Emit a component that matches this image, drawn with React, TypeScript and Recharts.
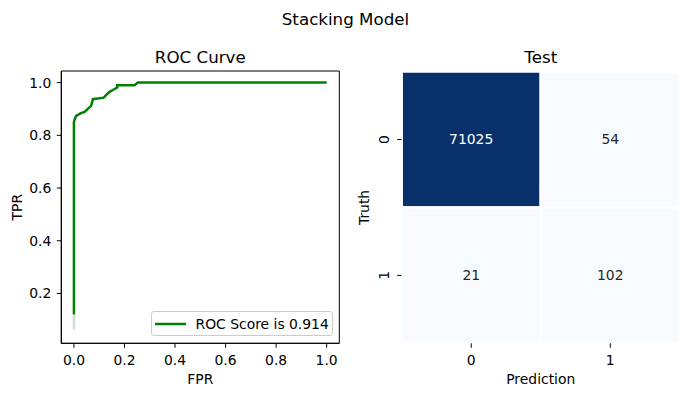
import {
  ComposedChart,
  Line,
  XAxis,
  YAxis,
  ReferenceArea,
  Label,
  Legend,
} from 'recharts';

// ROC curve points
const rocFpr = [0, 0, 0.003, 0.009, 0.026, 0.042, 0.058, 0.068, 0.075, 0.118, 0.131, 0.141, 0.154, 0.171, 0.171, 0.24, 0.253, 1.0];
const rocTpr = [0.12, 0.85, 0.861, 0.874, 0.883, 0.889, 0.903, 0.912, 0.937, 0.943, 0.956, 0.965, 0.972, 0.981, 0.99, 0.99, 1.0, 1.0];
const fadedFpr = [0, 0];
const fadedTpr = [0.063, 0.12];
const rocTicksX = [0, 0.2, 0.4, 0.6, 0.8, 1.0];
const rocTicksY = [0.2, 0.4, 0.6, 0.8, 1.0];
const rocLabel = 'ROC Score is 0.914';

// confusion matrix
const truthLabels = ['0', '1'];
const predLabels = ['0', '1'];
const confusion = [
  [71025, 54],
  [21, 102],
];

const FONT = 'DejaVu Sans, sans-serif';
const TICK = { fill: '#000', fontSize: 13.9, fontFamily: FONT };

const BLUES = ['#f7fbff', '#deebf7', '#c6dbef', '#9ecae1', '#6baed6', '#4292c6', '#2171b5', '#08519c', '#08306b'];

function hex(c: string) {
  return [1, 3, 5].map((i) => parseInt(c.slice(i, i + 2), 16));
}

function blues(t: number) {
  const p = Math.max(0, Math.min(1, t)) * (BLUES.length - 1);
  const i = Math.min(Math.floor(p), BLUES.length - 2);
  const f = p - i;
  const a = hex(BLUES[i]);
  const b = hex(BLUES[i + 1]);
  const m = a.map((v, k) => Math.round(v + (b[k] - v) * f));
  return `rgb(${m[0]},${m[1]},${m[2]})`;
}

const rocData = rocFpr.map((x, i) => ({ fpr: x, tpr: rocTpr[i] }));
const fadedData = fadedFpr.map((x, i) => ({ fpr: x, tpr: fadedTpr[i] }));

const flat = confusion.flat();
const vmin = Math.min(...flat);
const vmax = Math.max(...flat);
const cells = confusion.flatMap((row, i) =>
  row.map((v, j) => {
    const t = (v - vmin) / (vmax - vmin);
    return { i, j, v, fill: blues(t), text: t > 0.6 ? '#ffffff' : '#262626' };
  })
);

function RotatedTick(props: any) {
  const { x, y, payload } = props;
  const cx = x - 5;
  return (
    <text
      x={cx}
      y={y}
      dy="0.36em"
      textAnchor="middle"
      transform={`rotate(-90, ${cx}, ${y})`}
      fill="#000"
      fontSize={13.9}
      fontFamily={FONT}
    >
      {truthLabels[Math.floor(payload.value)]}
    </text>
  );
}

function RocLegend(props: any) {
  const item = (props.payload || []).find((p: any) => p.value === rocLabel);
  if (!item) return null;
  return (
    <div
      style={{
        boxSizing: 'border-box',
        width: 182,
        height: 25,
        border: '1px solid #cccccc',
        borderRadius: 3,
        background: 'rgba(255,255,255,0.8)',
        display: 'flex',
        alignItems: 'center',
        fontFamily: FONT,
        fontSize: 13.9,
        color: '#000',
        whiteSpace: 'nowrap',
      }}
    >
      <svg width={40} height={10} style={{ flex: 'none' }}>
        <line x1={3} x2={34} y1={5} y2={5} stroke={item.color} strokeWidth={2.5} />
      </svg>
      <span style={{ marginLeft: 4 }}>{item.value}</span>
    </div>
  );
}

export default function App() {
  return (
    <div
      style={{
        position: 'absolute',
        left: 0,
        top: 0,
        width: 690,
        height: 396,
        background: '#ffffff',
        fontFamily: FONT,
      }}
    >
      <div style={{ position: 'absolute', left: 0, top: 0 }}>
        <ComposedChart
          width={350}
          height={396}
          data={rocData}
          margin={{ top: 71, right: 10.7, bottom: 0, left: 0 }}
        >
          <XAxis
            dataKey="fpr"
            type="number"
            domain={[-0.05, 1.05]}
            allowDataOverflow
            ticks={rocTicksX}
            tickFormatter={(v: number) => v.toFixed(1)}
            height={52.7}
            tickSize={4.5}
            tickMargin={7}
            axisLine={{ stroke: '#000' }}
            tickLine={{ stroke: '#000' }}
            tick={TICK}
          >
            <Label value="FPR" position="insideBottom" offset={11.7} fill="#000" fontSize={13.9} fontFamily={FONT} />
          </XAxis>
          <YAxis
            type="number"
            domain={[0.011, 1.044]}
            allowDataOverflow
            ticks={rocTicksY}
            tickFormatter={(v: number) => v.toFixed(1)}
            width={61.3}
            tickSize={4.5}
            tickMargin={5.5}
            axisLine={{ stroke: '#000' }}
            tickLine={{ stroke: '#000' }}
            tick={TICK}
          >
            <Label
              value="TPR"
              angle={-90}
              position="insideLeft"
              offset={17}
              fill="#000"
              fontSize={13.9}
              fontFamily={FONT}
              style={{ textAnchor: 'middle' }}
            />
          </YAxis>
          <ReferenceArea
            x1={-0.05}
            x2={1.05}
            y1={0.011}
            y2={1.044}
            fill="none"
            fillOpacity={0}
            stroke="#000"
            strokeWidth={1}
            ifOverflow="visible"
          />
          <Line
            data={fadedData}
            dataKey="tpr"
            stroke="#008000"
            strokeOpacity={0.22}
            strokeWidth={2.5}
            dot={false}
            legendType="none"
            isAnimationActive={false}
          />
          <Line
            dataKey="tpr"
            name={rocLabel}
            stroke="#008000"
            strokeWidth={2.5}
            dot={false}
            isAnimationActive={false}
          />
          <Legend
            layout="horizontal"
            align="center"
            verticalAlign="middle"
            wrapperStyle={{ left: 150.5, top: 311, width: 182, height: 25 }}
            content={RocLegend}
          />
        </ComposedChart>
      </div>

      <div style={{ position: 'absolute', left: 350, top: 0 }}>
        <ComposedChart
          width={340}
          height={396}
          data={cells}
          margin={{ top: 71.6, right: 10.2, bottom: 0, left: 0 }}
        >
          <XAxis
            type="number"
            dataKey="j"
            domain={[0, 2]}
            allowDataOverflow
            ticks={[0.5, 1.5]}
            tickFormatter={(v: number) => predLabels[Math.floor(v)]}
            height={52.7}
            tickSize={4.5}
            tickMargin={7}
            axisLine={false}
            tickLine={{ stroke: '#000' }}
            tick={TICK}
          >
            <Label value="Prediction" position="insideBottom" offset={11.7} fill="#000" fontSize={13.9} fontFamily={FONT} />
          </XAxis>
          <YAxis
            type="number"
            dataKey="i"
            domain={[0, 2]}
            reversed
            allowDataOverflow
            ticks={[0.5, 1.5]}
            width={51.7}
            tickSize={4.5}
            tickMargin={8}
            axisLine={false}
            tickLine={{ stroke: '#000' }}
            tick={RotatedTick}
          >
            <Label
              value="Truth"
              angle={-90}
              position="insideLeft"
              offset={14}
              fill="#000"
              fontSize={13.9}
              fontFamily={FONT}
              style={{ textAnchor: 'middle' }}
            />
          </YAxis>
          {cells.map((c) => (
            <ReferenceArea
              key={`${c.i}-${c.j}`}
              x1={c.j}
              x2={c.j + 1}
              y1={c.i}
              y2={c.i + 1}
              fill={c.fill}
              fillOpacity={1}
              stroke="#ffffff"
              strokeWidth={2.5}
              ifOverflow="visible"
              label={{ value: String(c.v), position: 'center', fill: c.text, fontSize: 13.9, fontFamily: FONT }}
            />
          ))}
        </ComposedChart>
      </div>

      <svg
        width={690}
        height={396}
        style={{ position: 'absolute', left: 0, top: 0, pointerEvents: 'none' }}
      >
        <text x={345.5} y={25} textAnchor="middle" fontSize={16.7} fill="#000" fontFamily={FONT}>
          Stacking Model
        </text>
        <text x={200.3} y={63} textAnchor="middle" fontSize={16.7} fill="#000" fontFamily={FONT}>
          ROC Curve
        </text>
        <text x={540.8} y={63} textAnchor="middle" fontSize={16.7} fill="#000" fontFamily={FONT}>
          Test
        </text>
      </svg>
    </div>
  );
}
